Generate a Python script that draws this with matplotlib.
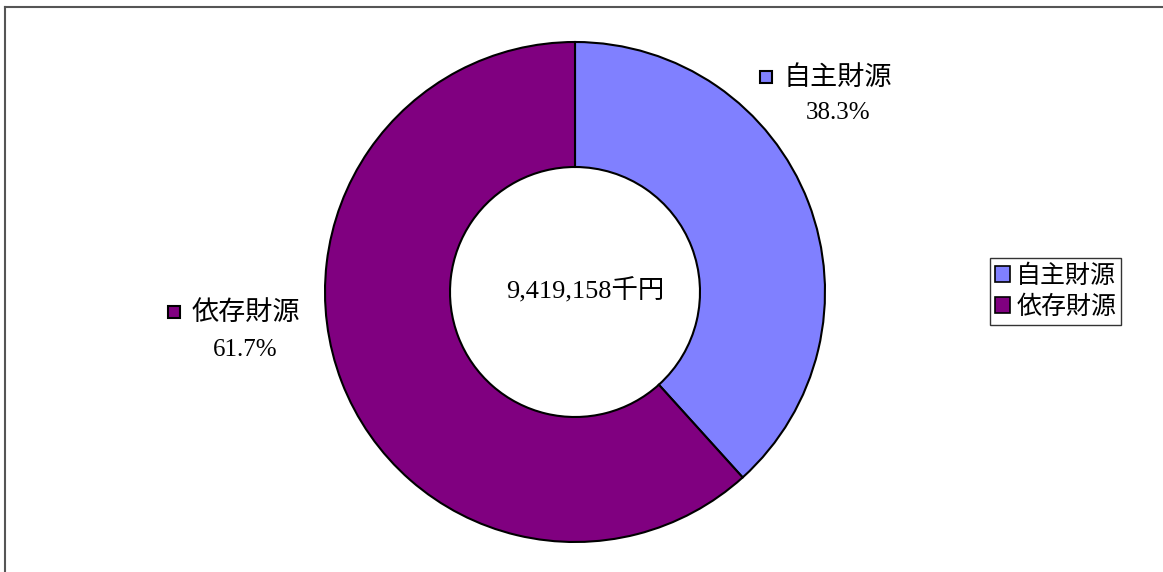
import matplotlib
matplotlib.use("Agg")
import matplotlib.pyplot as plt
from matplotlib.patches import Rectangle

# data
labels = ["自主財源", "依存財源"]
shares = [38.3, 61.7]
colors = ["#8080FF", "#800080"]
total_text = "9,419,158千円"

jp = ["Noto Sans CJK JP", "DejaVu Sans"]
num = ["Liberation Serif", "Noto Sans CJK JP"]

W, H = 1163, 572
fig = plt.figure(figsize=(W / 100, H / 100), dpi=100)
ax = fig.add_axes([0, 0, 1, 1])

# donut
cx, cy, r = 575, H - 292, 250
ax.pie(shares, colors=colors, startangle=90, counterclock=False,
       center=(cx, cy), radius=r, frame=True,
       wedgeprops=dict(width=r * 0.5, edgecolor="black", linewidth=1.5))
ax.set_xlim(0, W)
ax.set_ylim(0, H)
ax.set_aspect("equal")
ax.axis("off")

# outer frame (only top and left visible)
ax.plot([5, 5], [0, H - 7], color="#555555", lw=1.5)
ax.plot([5, W], [H - 7, H - 7], color="#555555", lw=1.5)

ax.text(cx + 10, cy + 2, total_text, ha="center", va="center", fontsize=19,
        family=num)

# data labels
label_pos = [(760, 77, 838, 113), (168, 312, 245, 350)]
for (lbl, sh, col, (bx, by, px, py)) in zip(labels, shares, colors, label_pos):
    ax.add_patch(Rectangle((bx, H - by - 6), 12, 12, facecolor=col,
                           edgecolor="black", lw=1.5))
    ax.text(bx + 24, H - by, lbl, ha="left", va="center", fontsize=19.5,
            family=jp)
    ax.text(px, H - py, f"{sh}%", ha="center", va="center", fontsize=18,
            family=num)

# legend
handles = [Rectangle((0, 0), 1, 1, facecolor=c, edgecolor="black", lw=1.2)
           for c in colors]
leg = ax.legend(handles, labels, loc="center left",
                bbox_to_anchor=(990 / W, 1 - 291 / H), frameon=True,
                fancybox=False, prop={"family": jp, "size": 18},
                handlelength=0.6, handleheight=0.6, handletextpad=0.25,
                borderpad=0.2, labelspacing=0.2, borderaxespad=0)
leg.get_frame().set_edgecolor("black")
leg.get_frame().set_linewidth(1.0)

fig.savefig("out.png", dpi=100)
